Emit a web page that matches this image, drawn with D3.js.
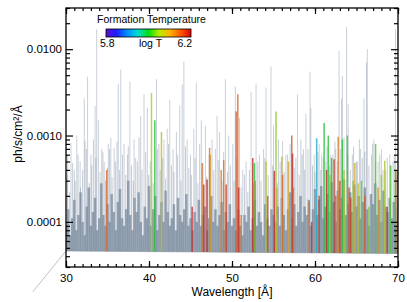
<!DOCTYPE html>
<html>
<head>
<meta charset="utf-8">
<script src="https://cdn.jsdelivr.net/npm/d3@7"></script>
<style>
  body { margin: 0; background: #fff; }
  text { font-family: "Liberation Sans", Arial, Helvetica, sans-serif; }
</style>
</head>
<body>
<div id="chart"></div>
<script>
var width = 407;
var height = 302;
var margin = {left: 66, right: 9, top: 8, bottom: 35};

// continuum under the lines (wavelength, flux)
var continuumWl = [26.0, 30, 70];
var continuumFlux = [1.55e-5, 4.6e-5, 4.3e-5];

// dense blend of weak lines near the continuum [wavelength, peak]
var forestLines = [
  [30.0,9e-5],[30.25,1.4e-4],[30.5,7e-5],[30.75,1.1e-4],[31.0,1.8e-4],[31.25,8e-5],[31.5,1.2e-4],[31.75,2.2e-4],
  [32.0,1.0e-4],[32.25,7e-5],[32.5,1.5e-4],[32.75,2.5e-4],[33.0,9e-5],[33.25,1.3e-4],[33.5,1.9e-4],[33.75,8e-5],
  [34.0,1.1e-4],[34.25,2.8e-4],[34.5,1.2e-4],[34.75,9e-5],[35.0,1.6e-4],[35.25,1.0e-4],[35.5,2.1e-4],[35.75,1.3e-4],
  [36.0,8e-5],[36.25,1.7e-4],[36.5,2.4e-4],[36.75,1.1e-4],[37.0,9e-5],[37.25,1.4e-4],[37.5,3.0e-4],[37.75,1.2e-4],
  [38.0,8e-5],[38.25,1.9e-4],[38.5,1.3e-4],[38.75,2.2e-4],[39.0,1.0e-4],[39.25,7e-5],[39.5,1.5e-4],[39.75,1.1e-4],
  [40.0,2.6e-4],[40.25,9e-5],[40.5,1.4e-4],[40.75,2.0e-4],[41.0,8e-5],[41.25,1.2e-4],[41.5,1.7e-4],[41.75,1.0e-4],
  [42.0,2.3e-4],[42.25,1.3e-4],[42.5,9e-5],[42.75,1.1e-4],[43.0,1.6e-4],[43.25,8e-5],[43.5,1.9e-4],[43.75,1.2e-4],
  [44.0,1.0e-4],[44.25,1.4e-4],[44.5,2.1e-4],[44.75,9e-5],[45.0,1.1e-4],[45.25,8e-5],[45.5,1.3e-4],[45.75,1.0e-4],
  [46.0,1.8e-4],[46.25,9e-5],[46.5,1.2e-4],[46.75,1.5e-4],[47.0,8e-5],[47.25,1.1e-4],[47.5,2.0e-4],[47.75,1.0e-4],
  [48.0,1.4e-4],[48.25,9e-5],[48.5,1.2e-4],[48.75,1.7e-4],[49.0,8e-5],[49.25,1.3e-4],[49.5,1.0e-4],[49.75,1.6e-4],
  [50.0,9e-5],[50.25,1.1e-4],[50.5,8e-5],[50.75,1.4e-4],[51.0,9e-5],[51.25,7e-5],[51.5,1.2e-4],[51.75,1.0e-4],
  [52.0,1.5e-4],[52.25,8e-5],[52.5,1.1e-4],[52.75,1.8e-4],[53.0,9e-5],[53.25,1.3e-4],[53.5,1.0e-4],[53.75,7e-5],
  [54.0,1.6e-4],[54.25,1.1e-4],[54.5,9e-5],[54.75,1.4e-4],[55.0,1.2e-4],[55.25,1.0e-4],[55.5,1.5e-4],[55.75,9e-5],
  [56.0,1.9e-4],[56.25,1.2e-4],[56.5,8e-5],[56.75,1.4e-4],[57.0,2.2e-4],[57.25,1.1e-4],[57.5,1.6e-4],[57.75,9e-5],
  [58.0,1.3e-4],[58.25,2.0e-4],[58.5,1.0e-4],[58.75,1.5e-4],[59.0,1.2e-4],[59.25,1.8e-4],[59.5,9e-5],[59.75,1.4e-4],
  [60.0,2.4e-4],[60.25,1.2e-4],[60.5,1.8e-4],[60.75,2.6e-4],[61.0,1.1e-4],[61.25,1.5e-4],[61.5,2.1e-4],[61.75,1.3e-4],
  [62.0,2.9e-4],[62.25,1.7e-4],[62.5,1.0e-4],[62.75,2.3e-4],[63.0,1.4e-4],[63.25,1.9e-4],[63.5,3.1e-4],[63.75,1.2e-4],
  [64.0,1.6e-4],[64.25,2.2e-4],[64.5,1.3e-4],[64.75,2.7e-4],[65.0,1.5e-4],[65.25,2.0e-4],[65.5,1.1e-4],[65.75,1.7e-4],
  [66.0,2.5e-4],[66.25,1.4e-4],[66.5,9e-5],[66.75,2.1e-4],[67.0,1.6e-4],[67.25,2.8e-4],[67.5,1.2e-4],[67.75,1.8e-4],
  [68.0,1.0e-4],[68.25,2.3e-4],[68.5,1.5e-4],[68.75,1.3e-4],[69.0,1.9e-4],[69.25,1.1e-4],[69.5,1.7e-4],[69.75,9e-5],
  [70.0,1.4e-4]
];

// medium strength lines [wavelength, peak]
var midLines = [
  [30.15,3.5e-4],[30.45,2.2e-4],[30.8,4.8e-4],[31.1,3.0e-4],[31.45,6.0e-4],[31.75,2.5e-4],[32.0,4.0e-4],[32.45,7.0e-4],
  [32.8,2.8e-4],[33.1,4.5e-4],[33.3,9.0e-4],[33.6,5.5e-4],[34.1,3.8e-4],[34.45,6.5e-4],[34.75,3.0e-4],[35.0,4.2e-4],
  [35.25,7.0e-4],[35.55,3.3e-4],[35.95,5.0e-4],[36.15,8.5e-4],[36.45,4.0e-4],[36.8,6.0e-4],[37.2,3.5e-4],[37.5,7.5e-4],
  [37.9,4.5e-4],[38.1,3.0e-4],[38.4,5.5e-4],[38.8,9.5e-4],[39.15,4.0e-4],[39.6,6.5e-4],[39.95,3.5e-4],[40.15,5.0e-4],
  [40.5,2.8e-4],[41.0,7.0e-4],[41.35,4.0e-4],[41.65,5.5e-4],[42.0,3.2e-4],[42.35,8.0e-4],[42.7,4.5e-4],[43.0,3.8e-4],
  [43.45,6.0e-4],[43.85,3.0e-4],[44.4,7.5e-4],[44.8,4.2e-4],[45.1,3.5e-4],[45.55,5.5e-4],[45.9,2.8e-4],[46.5,4.8e-4],
  [46.95,3.3e-4],[47.25,6.0e-4],[47.8,4.0e-4],[48.35,5.2e-4],[48.8,3.0e-4],[49.0,6.5e-4],[49.45,3.8e-4],[49.8,4.5e-4],
  [50.25,3.0e-4],[50.6,5.5e-4],[51.1,2.5e-4],[51.5,3.5e-4],[51.9,2.2e-4],[52.1,4.0e-4],[52.6,2.8e-4],[53.1,5.0e-4],
  [53.5,3.0e-4],[53.95,5.5e-4],[54.35,3.5e-4],[54.9,4.5e-4],[55.45,2.8e-4],[55.8,5.0e-4],[56.3,3.8e-4],[56.7,6.0e-4],
  [57.5,4.2e-4],[57.7,5.5e-4],[58.1,3.5e-4],[58.45,6.0e-4],[58.75,4.0e-4],[59.15,7.0e-4],[59.7,4.5e-4],[60.0,3.8e-4],
  [60.35,6.5e-4],[60.7,4.0e-4],[61.0,5.5e-4],[61.45,7.5e-4],[61.75,4.5e-4],[62.15,6.0e-4],[62.4,8.5e-4],[62.7,5.0e-4],
  [63.05,7.0e-4],[63.5,9.5e-4],[63.95,6.0e-4],[64.25,4.0e-4],[64.65,7.5e-4],[65.1,5.0e-4],[65.35,9.0e-4],[65.7,5.5e-4],
  [66.0,6.5e-4],[66.5,4.5e-4],[66.95,8.0e-4],[67.3,5.0e-4],[67.8,6.0e-4],[68.2,4.0e-4],[68.7,5.5e-4],[69.15,4.5e-4],
  [69.55,6.0e-4],[69.9,3.5e-4]
];

// strong lines [wavelength, peak]
var strongLines = [
  [30.2,6e-4],[30.6,8.2e-4],[31.0,4e-4],[31.3,1.0e-3],[31.7,5e-4],[32.2,2.7e-3],[32.3,8.7e-4],[32.6,4.8e-3],
  [33.0,6e-4],[33.5,2.2e-3],[33.7,1.7e-2],[33.9,1.5e-3],[34.3,7e-4],[34.6,5e-4],[35.1,8e-4],[35.4,9.4e-4],
  [35.8,7.2e-4],[36.3,4.0e-3],[36.6,5.8e-3],[37.0,8e-4],[37.4,6e-4],[37.7,4.2e-3],[38.2,9e-4],[38.6,5e-4],
  [39.0,1.7e-3],[39.4,3.0e-3],[39.8,2.1e-3],[40.9,4.5e-3],[41.2,8e-4],[41.8,9e-4],[42.2,1.2e-3],[42.5,2.6e-3],
  [42.9,7e-4],[43.3,1.1e-3],[43.7,2.2e-3],[44.0,3.9e-3],[44.2,7.2e-3],[44.6,9e-4],[45.0,6e-4],[45.4,1.2e-3],
  [45.7,4.1e-3],[46.1,8e-4],[46.3,1.5e-3],[46.8,1.3e-3],[47.6,9e-4],[48.0,7e-4],[48.2,1.7e-3],[48.5,1.1e-3],
  [49.2,4.5e-3],[49.6,1.0e-3],[50.1,8e-4],[50.4,3.7e-3],[50.9,1.6e-3],[51.3,4e-4],[51.7,5e-4],[52.3,3.2e-3],
  [52.9,4.0e-3],[53.3,6e-4],[53.8,7e-4],[54.1,3.6e-3],[54.7,6.3e-3],[55.0,1.3e-3],[55.6,9e-4],[56.1,8.7e-4],
  [56.5,6e-4],[57.0,8e-4],[57.9,3.0e-3],[58.3,9e-4],[58.6,7e-4],[58.9,1.8e-3],[59.4,5.5e-3],[59.5,2.1e-3],
  [59.9,6e-4],[60.5,8e-4],[60.8,6e-4],[61.3,5e-4],[61.9,6e-4],[62.5,7e-4],[62.9,9.6e-3],[63.2,2.7e-3],
  [63.3,4.9e-3],[63.8,1.8e-2],[64.0,2.3e-3],[64.5,6e-4],[65.0,5e-4],[65.5,7e-4],[65.9,2.7e-3],[66.2,7.0e-3],
  [66.3,1.0e-2],[66.8,6e-4],[67.1,9e-4],[67.6,5e-4],[68.0,7e-4],[68.5,4e-4],[69.0,6e-4],[69.4,5e-4],
  [69.7,1.7e-2]
];

// lines coloured by formation temperature [wavelength, peak, logT]
var tempLines = [
  [34.9,4.0e-4,6.15],[40.3,3.1e-3,6.05],[40.7,1.5e-3,6.0],[41.5,1.1e-3,6.07],[45.2,1.5e-4,6.2],
  [46.4,4.8e-4,6.14],[46.6,2.7e-4,6.19],[47.0,3.1e-4,6.2],[47.3,7.2e-4,6.14],[47.4,6.0e-4,6.11],
  [48.7,4.0e-4,6.13],[49.0,5.2e-4,6.14],[49.3,2.7e-4,6.18],[50.5,1.9e-3,6.16],[50.7,3.0e-3,6.15],
  [50.8,2.5e-4,6.19],[51.1,1.2e-4,6.14],[52.5,5.5e-4,6.2],[52.7,4.8e-4,6.0],[52.8,3.0e-4,6.13],
  [54.1,5.0e-4,6.06],[54.3,2.0e-4,6.17],[55.1,3.9e-4,6.2],[55.3,1.9e-3,6.04],[55.4,2.5e-4,6.08],
  [56.0,5.7e-4,6.08],[56.1,3.5e-4,6.15],[56.8,5.0e-4,6.1],[57.2,1.0e-3,6.16],[57.3,6.2e-4,6.19],
  [57.4,2.5e-4,6.14],[59.3,1.7e-4,6.14],[59.6,1.0e-4,6.19],[60.2,9.3e-4,5.93],[60.5,2.0e-4,6.18],
  [61.1,1.4e-3,6.0],[61.4,4.0e-4,6.2],[61.6,1.0e-3,6.0],[61.8,3.5e-4,6.04],[62.0,5.5e-4,6.0],
  [62.3,5.3e-4,6.19],[62.5,2.0e-4,6.15],[62.8,9.7e-4,6.13],[63.0,3.0e-4,6.18],[63.3,9.0e-4,6.0],
  [63.5,4.0e-4,6.06],[63.9,1.0e-3,6.01],[64.1,2.5e-4,6.17],[64.3,1.9e-4,6.18],[64.6,3.0e-4,6.04],
  [64.8,4.8e-4,6.1],[65.2,2.8e-4,6.06],[65.6,3.0e-4,6.02],[66.0,2.0e-4,6.16],[66.5,1.5e-4,6.03],
  [67.3,8.0e-4,6.02],[67.6,2.5e-4,6.12],[68.0,3.5e-4,6.04],[68.4,5.1e-4,6.06],[68.7,1.5e-4,6.19],
  [69.1,4.5e-4,6.02],[69.7,3.9e-4,6.0],[69.9,4.0e-4,6.15]
];

var xTicks = [30, 40, 50, 60, 70];
var yTicks = [1e-4, 1e-3, 1e-2];
var tempRange = [5.8, 6.2];
var rainbow = ["#5a0fc8", "#1a22ff", "#0090ff", "#00dcd0", "#00de10", "#b8ec00", "#ffb400", "#ff5a00", "#dc0000"];

var svg = d3.select('#chart').append('svg')
      .attr('width', width)
      .attr('height', height);

var x = d3.scaleLinear().domain([30, 70]).range([margin.left, width - margin.right]);
var y = d3.scaleLog().domain([3e-5, 3e-2]).range([height - margin.bottom, margin.top]);
var continuum = d3.scaleLinear().domain(continuumWl).range(continuumFlux);

var tempColor = d3.scaleLinear()
      .domain(d3.range(rainbow.length).map(i => tempRange[0] + i * (tempRange[1] - tempRange[0]) / (rainbow.length - 1)))
      .range(rainbow);
// the plotted lines are a muted version of the colour bar
var lineColor = t => d3.interpolateRgb(tempColor(t), '#707c88')(0.3);

svg.append('clipPath').attr('id', 'plotClip')
  .append('rect')
      .attr('x', x(30)).attr('y', y(3e-2))
      .attr('width', x(70) - x(30)).attr('height', y(3e-5) - y(3e-2));

// continuum line, including the stray segment left of the plot
svg.append('path')
      .datum(continuumWl.map((w, i) => [w, continuumFlux[i]]))
      .attr('fill', 'none')
      .attr('stroke', '#bcc3ca')
      .attr('stroke-width', 1)
      .attr('d', d3.line().x(d => x(d[0])).y(d => y(d[1])));

var lines = svg.append('g').attr('clip-path', 'url(#plotClip)');

function drawLines (data, color, opacity, w) {
      lines.append('g').selectAll('line')
      .data(data)
      .enter()
      .append('line')
            .attr('x1', d => x(d[0]))
            .attr('x2', d => x(d[0]))
            .attr('y1', d => y(continuum(d[0])))
            .attr('y2', d => y(d[1]))
            .attr('stroke', typeof color === 'function' ? color : () => color)
            .attr('stroke-opacity', opacity)
            .attr('stroke-width', w);
}

drawLines(strongLines, '#72849a', 0.38, 1.0);
drawLines(midLines, '#72849a', 0.42, 1.0);
drawLines(forestLines, '#7a8b9e', 0.75, 2.5);
drawLines(tempLines, d => lineColor(d[2]), 0.8, 1.5);

// axes, ticks pointing into the plot
var minorY = [];
[1e-5, 1e-4, 1e-3, 1e-2].forEach(function (dec) {
      for (let k = 2; k <= 9; k++) {
            let v = k * dec;
            if (v >= 3e-5 && v <= 3e-2 + 1e-9) minorY.push(v);
      }
});
var minorX = d3.range(30, 71, 1);

var axisFont = '11.5px';

svg.append('g')
      .attr('transform', 'translate(' + x(30) + ',0)')
      .call(d3.axisLeft(y).tickValues(yTicks).tickSizeInner(-7).tickSizeOuter(0).tickPadding(4).tickFormat(d3.format('.4f')));
svg.append('g')
      .attr('transform', 'translate(' + x(30) + ',0)')
      .call(d3.axisLeft(y).tickValues(minorY).tickSizeInner(-4).tickSizeOuter(0).tickFormat(''));
svg.append('g')
      .attr('transform', 'translate(' + x(70) + ',0)')
      .call(d3.axisRight(y).tickValues(yTicks).tickSizeInner(-7).tickSizeOuter(0).tickFormat(''));
svg.append('g')
      .attr('transform', 'translate(' + x(70) + ',0)')
      .call(d3.axisRight(y).tickValues(minorY).tickSizeInner(-4).tickSizeOuter(0).tickFormat(''));

svg.append('g')
      .attr('transform', 'translate(0,' + y(3e-5) + ')')
      .call(d3.axisBottom(x).tickValues(xTicks).tickSizeInner(-6).tickSizeOuter(0).tickPadding(7).tickFormat(d3.format('d')));
svg.append('g')
      .attr('transform', 'translate(0,' + y(3e-5) + ')')
      .call(d3.axisBottom(x).tickValues(minorX).tickSizeInner(-3).tickSizeOuter(0).tickFormat(''));
svg.append('g')
      .attr('transform', 'translate(0,' + y(3e-2) + ')')
      .call(d3.axisTop(x).tickValues(xTicks).tickSizeInner(-6).tickSizeOuter(0).tickFormat(''));
svg.append('g')
      .attr('transform', 'translate(0,' + y(3e-2) + ')')
      .call(d3.axisTop(x).tickValues(minorX).tickSizeInner(-3).tickSizeOuter(0).tickFormat(''));

svg.selectAll('.domain').remove();
svg.selectAll('.tick line').attr('stroke', '#000').attr('stroke-width', 1.2);
svg.selectAll('.tick text').style('font-size', axisFont).attr('fill', '#000');

svg.append('rect')
      .attr('x', x(30)).attr('y', y(3e-2))
      .attr('width', x(70) - x(30)).attr('height', y(3e-5) - y(3e-2))
      .attr('fill', 'none')
      .attr('stroke', '#000')
      .attr('stroke-width', 1.3);

// axis titles
svg.append('text')
      .attr('x', (x(30) + x(70)) / 2)
      .attr('y', 296)
      .style('text-anchor', 'middle')
      .style('font-size', '12px')
      .text('Wavelength [Å]');

svg.append('text')
      .attr('transform', 'rotate(-90)')
      .attr('x', -134)
      .attr('y', 22)
      .style('text-anchor', 'middle')
      .style('font-size', '12px')
      .text('ph/s/cm²/Å');

// colour bar legend
var barX = 106, barY = 29, barW = 85, barH = 8;
var grad = svg.append('defs').append('linearGradient').attr('id', 'tempGrad');
rainbow.forEach(function (c, i) {
      grad.append('stop').attr('offset', (i / (rainbow.length - 1) * 100) + '%').attr('stop-color', c);
});
svg.append('rect')
      .attr('x', barX).attr('y', barY).attr('width', barW).attr('height', barH)
      .attr('fill', 'url(#tempGrad)')
      .attr('stroke', '#000').attr('stroke-width', 0.8);

svg.append('text')
      .attr('x', 97).attr('y', 23)
      .style('font-size', '10.5px')
      .text('Formation Temperature');
svg.append('text')
      .attr('x', barX - 6).attr('y', 47)
      .style('font-size', '10.5px')
      .text(tempRange[0].toFixed(1));
svg.append('text')
      .attr('x', barX + barW / 2 + 2).attr('y', 47)
      .style('text-anchor', 'middle')
      .style('font-size', '10.5px')
      .text('log T');
svg.append('text')
      .attr('x', barX + barW + 1).attr('y', 47)
      .style('text-anchor', 'end')
      .style('font-size', '10.5px')
      .text(tempRange[1].toFixed(1));
</script>
</body>
</html>
